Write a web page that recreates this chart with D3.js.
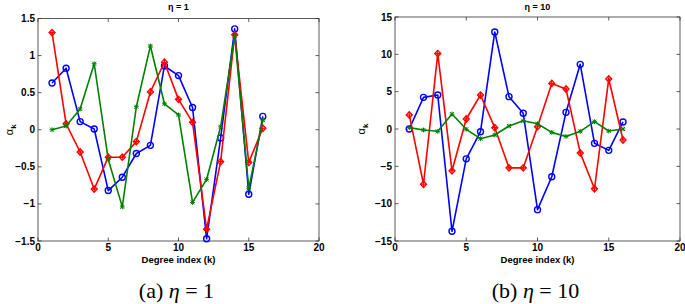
<!DOCTYPE html>
<html>
<head>
<meta charset="utf-8">
<script src="https://cdn.jsdelivr.net/npm/d3@7"></script>
<style>
  body { margin: 0; background: #fff; }
  svg { display: block; }
  .sans { font-family: "Liberation Sans", Arial, sans-serif; }
  .serif { font-family: "Liberation Serif", "DejaVu Serif", serif; }
</style>
</head>
<body>
<svg id="chart" width="685" height="304"></svg>
<script>
// degree index k
var kIndex = [1, 2, 3, 4, 5, 6, 7, 8, 9, 10, 11, 12, 13, 14, 15, 16];

// eta = 1
var eta1Blue  = [0.63, 0.83, 0.11, 0.01, -0.82, -0.64, -0.32, -0.21, 0.86, 0.73, 0.30, -1.47, -0.11, 1.36, -0.87, 0.18];
var eta1Red   = [1.31, 0.08, -0.30, -0.80, -0.37, -0.37, -0.16, 0.51, 0.91, 0.41, 0.10, -1.34, -0.43, 1.28, -0.44, 0.02];
var eta1Green = [0.00, 0.05, 0.28, 0.89, -0.40, -1.04, 0.31, 1.13, 0.35, 0.20, -0.98, -0.67, 0.04, 1.27, -0.79, 0.13];

// eta = 10
var eta10Blue  = [0.0, 4.24, 4.55, -13.7, -4.0, -0.36, 13.0, 4.33, 2.1, -10.8, -6.4, 2.23, 8.66, -1.92, -2.86, 0.94];
var eta10Red   = [1.88, -7.4, 10.1, -5.6, 1.34, 4.55, 0.18, -5.2, -5.2, 0.31, 6.1, 5.36, -3.2, -8.0, 6.7, -1.47];
var eta10Green = [0.18, -0.13, -0.31, 2.0, -0.04, -1.3, -0.8, 0.4, 1.1, 0.7, -0.45, -1.0, -0.31, 0.98, -0.27, 0.0];

var xTicks = [0, 5, 10, 15, 20];
var yTicksA = [-1.5, -1, -0.5, 0, 0.5, 1, 1.5];
var yTicksB = [-15, -10, -5, 0, 5, 10, 15];

var svg = d3.select("#chart");
var fmt = function(v) { return String(v).replace("-", "\u2212"); };

function drawPanel(p) {
  var x = d3.scaleLinear().domain([0, 20]).range([p.left, p.right]);
  var y = d3.scaleLinear().domain(p.yDomain).range([p.bottom, p.top]);
  var g = svg.append("g");

  // box
  g.append("rect")
    .attr("x", p.left).attr("y", p.top)
    .attr("width", p.right - p.left).attr("height", p.bottom - p.top)
    .attr("fill", "none").attr("stroke", "#333").attr("stroke-width", 0.8);

  var tl = 3.5;
  // ticks inward, mirrored on top / right like matlab
  xTicks.forEach(function(t) {
    g.append("line").attr("x1", x(t)).attr("x2", x(t)).attr("y1", p.bottom).attr("y2", p.bottom - tl)
      .attr("stroke", "#333").attr("stroke-width", 0.8);
    g.append("line").attr("x1", x(t)).attr("x2", x(t)).attr("y1", p.top).attr("y2", p.top + tl)
      .attr("stroke", "#333").attr("stroke-width", 0.8);
    g.append("text").attr("x", x(t)).attr("y", p.bottom + 9.5)
      .attr("text-anchor", "middle").attr("class", "tick sans").text(fmt(t));
  });
  p.yTicks.forEach(function(t) {
    g.append("line").attr("x1", p.left).attr("x2", p.left + tl).attr("y1", y(t)).attr("y2", y(t))
      .attr("stroke", "#333").attr("stroke-width", 0.8);
    g.append("line").attr("x1", p.right).attr("x2", p.right - tl).attr("y1", y(t)).attr("y2", y(t))
      .attr("stroke", "#333").attr("stroke-width", 0.8);
    g.append("text").attr("x", p.left - 3).attr("y", y(t) + 3.5)
      .attr("text-anchor", "end").attr("class", "tick sans").text(fmt(t));
  });
  g.selectAll("text.tick")
    .attr("font-weight", "bold").attr("font-size", 10).attr("fill", "#000");

  // title
  g.append("text").attr("class", "sans").attr("x", (p.left + p.right) / 2).attr("y", 10)
    .attr("text-anchor", "middle")
    .attr("font-weight", "bold").attr("font-size", 9)
    .text(p.title);

  // x label
  g.append("text").attr("class", "sans").attr("x", (p.left + p.right) / 2).attr("y", 263)
    .attr("text-anchor", "middle")
    .attr("font-weight", "bold").attr("font-size", 9.5)
    .text("Degree index (k)");

  // y label
  var yl = g.append("text").attr("class", "sans")
    .attr("transform", "translate(" + p.ylabX + "," + ((p.top + p.bottom) / 2) + ") rotate(-90)")
    .attr("text-anchor", "middle")
    .attr("font-size", 11);
  yl.append("tspan").text("\u03b1");
  yl.append("tspan").attr("font-size", 8).attr("font-weight", "bold").attr("dy", 3).text("k");

  // caption
  var cap = g.append("text").attr("class", "serif").attr("x", (p.left + p.right) / 2 - 2).attr("y", 298)
    .attr("text-anchor", "middle")
    .attr("font-size", 22);
  cap.append("tspan").text("(" + p.letter + ") ");
  cap.append("tspan").attr("font-style", "italic").text("\u03b7");
  cap.append("tspan").text(" = " + p.eta);

  var line = d3.line().x(function(d) { return x(d[0]); }).y(function(d) { return y(d[1]); });

  p.series.forEach(function(s) {
    var pts = kIndex.map(function(k, i) { return [k, s.values[i]]; });
    g.append("path").datum(pts).attr("d", line)
      .attr("fill", "none").attr("stroke", s.color).attr("stroke-width", 1.6)
      .attr("stroke-linejoin", "round");
    var m = g.append("g").selectAll("g").data(pts).enter().append("g")
      .attr("transform", function(d) { return "translate(" + x(d[0]) + "," + y(d[1]) + ")"; });
    if (s.marker === "circle") {
      m.append("circle").attr("r", 3).attr("fill", "none").attr("stroke", s.color).attr("stroke-width", 1.4);
    } else if (s.marker === "diamond") {
      m.append("path").attr("d", "M0,-3.2L3,0L0,3.2L-3,0Z").attr("fill", "none")
        .attr("stroke", s.color).attr("stroke-width", 1.3);
      m.append("path").attr("d", "M-3,0H3M0,-3.2V3.2").attr("stroke", s.color).attr("stroke-width", 1.1);
    } else {
      m.append("path").attr("d", "M-2,-2L2,2M-2,2L2,-2M0,-2.4V2.4M-2.4,0H2.4")
        .attr("stroke", s.color).attr("stroke-width", 1);
    }
  });
}

drawPanel({
  left: 38, right: 319, top: 18.5, bottom: 241,
  yDomain: [-1.5, 1.5], yTicks: yTicksA,
  title: "\u03b7 = 1", letter: "a", eta: "1", ylabX: 13,
  series: [
    { values: eta1Blue, color: "#0000ff", marker: "circle" },
    { values: eta1Red, color: "#ff0000", marker: "diamond" },
    { values: eta1Green, color: "#008000", marker: "star" }
  ]
});

drawPanel({
  left: 395, right: 680, top: 17, bottom: 241,
  yDomain: [-15, 15], yTicks: yTicksB,
  title: "\u03b7 = 10", letter: "b", eta: "10", ylabX: 365,
  series: [
    { values: eta10Blue, color: "#0000ff", marker: "circle" },
    { values: eta10Red, color: "#ff0000", marker: "diamond" },
    { values: eta10Green, color: "#008000", marker: "star" }
  ]
});
</script>
</body>
</html>
